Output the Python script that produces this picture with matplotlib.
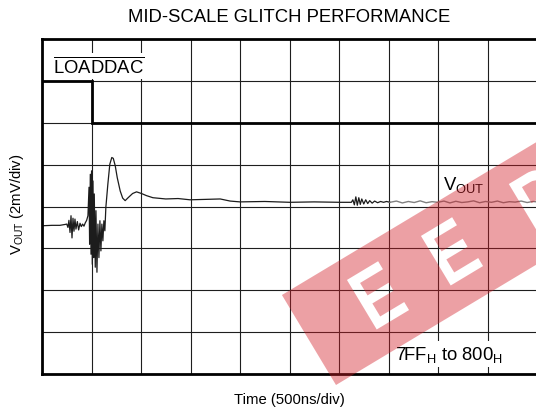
import matplotlib
matplotlib.use('Agg')
import numpy as np
import matplotlib.pyplot as plt
from matplotlib.path import Path
from matplotlib.patches import PathPatch
from matplotlib.textpath import TextPath
from matplotlib.font_manager import FontProperties
from matplotlib.transforms import Affine2D

plt.rcParams['font.family'] = ['Liberation Sans', 'DejaVu Sans']
plt.rcParams['mathtext.fontset'] = 'custom'
plt.rcParams['mathtext.rm'] = 'Liberation Sans'
plt.rcParams['mathtext.it'] = 'Liberation Sans:italic'
plt.rcParams['mathtext.bf'] = 'Liberation Sans:bold'

# scope settings
NS_PER_DIV = 500
MV_PER_DIV = 2
N_XDIV, N_YDIV = 10, 8

# VOUT trace (time in ns, level in mV above the bottom of the screen)
t_dark = [0, 100, 180, 230, 250, 262, 272, 283, 293, 303, 313, 323, 333, 343, 357,
          370, 384, 397, 410, 424, 437, 451, 464, 475, 481, 488, 495, 501, 508, 515,
          522, 528, 538, 545, 555, 565, 575, 585, 595, 605, 615, 625, 635, 645, 665,
          685, 705, 720, 740, 760, 790, 815, 840, 870, 915, 955, 1005, 1055, 1120,
          1250, 1375, 1495, 1650, 1800, 1900, 2000, 2250, 2505, 2750, 3010, 3125,
          3140, 3155, 3170, 3185, 3200, 3215, 3230, 3250, 3270, 3290, 3310, 3335,
          3360, 3390, 3420, 3450, 3480, 3515]
v_dark = [7.08, 7.10, 7.10, 7.14, 7.16, 7.00, 7.34, 6.76, 7.56, 6.50, 7.44, 6.82, 7.40,
          6.92, 7.28, 6.88, 7.20, 7.04, 7.16, 7.06, 7.22, 7.34, 7.56, 8.92, 6.20, 9.54,
          5.72, 9.70, 5.24, 9.22, 5.56, 8.60, 5.10, 7.80, 4.86, 7.16, 5.56, 7.32, 5.88,
          7.16, 6.36, 7.32, 6.84, 7.96, 9.06, 10.02, 10.34, 10.30, 9.94, 9.38, 8.74,
          8.40, 8.28, 8.42, 8.62, 8.70, 8.62, 8.52, 8.42, 8.36, 8.38, 8.32, 8.34, 8.36,
          8.26, 8.22, 8.24, 8.20, 8.22, 8.20, 8.20, 8.32, 8.08, 8.46, 8.06, 8.42, 8.10,
          8.36, 8.12, 8.32, 8.14, 8.28, 8.16, 8.26, 8.18, 8.24, 8.20, 8.24, 8.20]
t_light = [3515, 3580, 3640, 3700, 3760, 3820, 3880, 3940, 4000, 4060, 4120, 4180, 4240,
           4300, 4360, 4420, 4480, 4540, 4600, 4660, 4720, 4780, 4840, 4900, 4960, 5000]
v_light = [8.20, 8.26, 8.17, 8.24, 8.19, 8.27, 8.18, 8.23, 8.20, 8.26, 8.17, 8.25, 8.19,
           8.22, 8.27, 8.18, 8.24, 8.20, 8.26, 8.18, 8.23, 8.21, 8.26, 8.19, 8.24, 8.22]

# LOADDAC logic trace
load_t = [0, 500, 500, 5000]
load_state = [1, 1, 0, 0]
LOAD_BASE_DIV = 6

W, H = 536, 414
fig = plt.figure(figsize=(W / 100, H / 100), dpi=100)
ax = fig.add_axes([42 / W, (H - 375) / H, 495 / W, 335 / H])
ax.set_xlim(0, N_XDIV * NS_PER_DIV)
ax.set_ylim(0, N_YDIV)
ax.set_xticks(np.arange(0, N_XDIV * NS_PER_DIV + 1, NS_PER_DIV))
ax.set_yticks(np.arange(0, N_YDIV + 1))
ax.tick_params(length=0, labelbottom=False, labelleft=False)
ax.grid(True, color='#1e1e1e', lw=0.8)
for sp in ax.spines.values():
    sp.set_linewidth(2.0)

ax.plot(t_dark, np.array(v_dark) / MV_PER_DIV, color='#1c1c1c', lw=0.9)
ax.plot(t_light, np.array(v_light) / MV_PER_DIV, color='#808080', lw=1.0)
ax.plot(load_t, LOAD_BASE_DIV + np.array(load_state), color='black', lw=2.0,
        solid_joinstyle='miter')

box = dict(boxstyle='square,pad=0.15', fc='white', ec='none')
ax.text(115, 7.36, r'$\overline{\mathrm{LOADDAC}}$', fontsize=13.3,
        ha='left', va='center', bbox=box)
ax.text(4050, 4.41, r'V$_{\mathrm{OUT}}$', fontsize=13.3, ha='left', va='baseline')
ax.text(3565, 0.36, r'7FF$_{\mathrm{H}}$ to 800$_{\mathrm{H}}$', fontsize=13.3,
        ha='left', va='baseline', bbox=box)

fig.text(289 / W, 1 - 18 / H, 'MID-SCALE GLITCH PERFORMANCE', fontsize=13.3,
         ha='center', va='center')
fig.text(289 / W, 1 - 400 / H, 'Time (500ns/div)', fontsize=10.7,
         ha='center', va='center')
fig.text(17 / W, 1 - 204 / H, r'V$_{\mathrm{OUT}}$ (2mV/div)', fontsize=10.7,
         ha='center', va='center', rotation=90)

# red watermark band with letter cut-outs (pixel coords, y down)
wm_angle = 31
wm_corner = np.array([336.0, 386.0])
wm_width, wm_length = 105, 330
wm_letters = ['E', 'E', 'P']
wm_centres = [(378, 296), (452, 252), (540, 200)]

a = np.radians(wm_angle)
u = np.array([np.cos(a), -np.sin(a)])
nrm = np.array([-np.sin(a), -np.cos(a)])
rect = np.array([wm_corner, wm_corner + wm_length * u,
                 wm_corner + wm_length * u + wm_width * nrm, wm_corner + wm_width * nrm])


def signed_area(poly):
    x, y = poly[:, 0], poly[:, 1]
    return 0.5 * np.sum(x * np.roll(y, -1) - np.roll(x, -1) * y)


fp = FontProperties(family='Liberation Sans', weight='bold')
glyphs = []
glyph_sign = 1
for ch, (cx, cy) in zip(wm_letters, wm_centres):
    tp = TextPath((0, 0), ch, size=84, prop=fp)
    bb = tp.get_extents()
    tr = (Affine2D().translate(-(bb.x0 + bb.x1) / 2, -(bb.y0 + bb.y1) / 2)
          .scale(0.8, -1).rotate_deg(-wm_angle).translate(cx, cy))
    gp = tr.transform_path(tp)
    polys = gp.to_polygons(closed_only=True)
    big = max(polys, key=lambda p: abs(signed_area(p)))
    glyph_sign = np.sign(signed_area(big))
    glyphs.append(gp)

if np.sign(signed_area(rect)) == glyph_sign:
    rect = rect[::-1]
rect_path = Path(np.vstack([rect, rect[:1]]),
                 [Path.MOVETO, Path.LINETO, Path.LINETO, Path.LINETO, Path.CLOSEPOLY])
wm_path = Path.make_compound_path(rect_path, *glyphs)
to_fig = Affine2D().scale(1 / W, -1 / H).translate(0, 1) + fig.transFigure
fig.add_artist(PathPatch(wm_path, transform=to_fig, fc='#d21e28', ec='none',
                         alpha=0.42, zorder=10))

fig.savefig('out.png', dpi=100)
